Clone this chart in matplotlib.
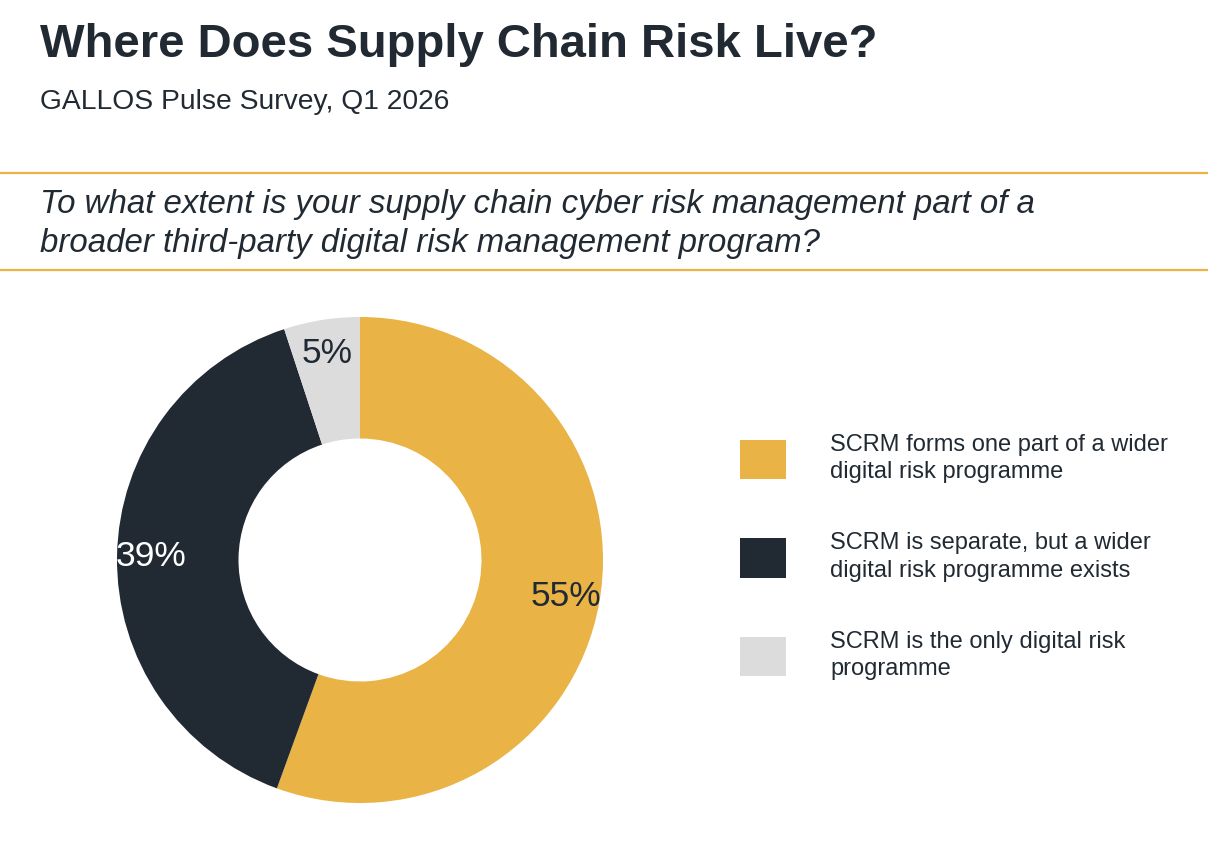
import numpy as np
import matplotlib
matplotlib.use('Agg')
import matplotlib.pyplot as plt
from matplotlib.patches import Patch
from matplotlib.lines import Line2D

plt.rcParams['font.family'] = ['Liberation Sans', 'DejaVu Sans']

# data
labels = ['SCRM forms one part of a wider\ndigital risk programme',
          'SCRM is separate, but a wider\ndigital risk programme exists',
          'SCRM is the only digital risk\nprogramme']
values = [55, 39, 5]
colors = ['#E9B345', '#212A33', '#DCDCDC']
label_colors = ['#212A33', 'white', '#212A33']

title = 'Where Does Supply Chain Risk Live?'
subtitle = 'GALLOS Pulse Survey, Q1 2026'
question = ('To what extent is your supply chain cyber risk management part of a\n'
            'broader third-party digital risk management program?')

W, H = 1208, 852
fig = plt.figure(figsize=(W / 100, H / 100), dpi=100)
fig.patch.set_facecolor('white')

dark = '#212A33'
gold = '#E9B345'

# header texts
fig.text(40 / W, 1 - 45 / H, title, fontsize=34, fontweight='bold', color=dark,
         ha='left', va='center')
fig.text(40 / W, 1 - 102 / H, subtitle, fontsize=20.3, color=dark, ha='left', va='center')
fig.text(40 / W, 1 - 224 / H, question, fontsize=23.8, style='italic', color=dark,
         ha='left', va='center', linespacing=1.31)

# gold rules
for yy in [173, 270]:
    fig.add_artist(Line2D([0, 1], [1 - yy / H, 1 - yy / H], color=gold, lw=1.6,
                          transform=fig.transFigure))

# donut
cx, cy, r = 360, 560, 243
ax = fig.add_axes([(cx - r) / W, (H - cy - r) / H, 2 * r / W, 2 * r / H])
wedges, texts, autotexts = ax.pie(values, colors=colors, startangle=90, counterclock=False,
                                  radius=1, wedgeprops=dict(width=0.5, linewidth=0),
                                  autopct=lambda p: '', pctdistance=0.86)
for at, v, c in zip(autotexts, values, label_colors):
    at.set_text(f'{v}%')
    at.set_color(c)
    at.set_fontsize(25.5)
ax.set_xlim(-1, 1)
ax.set_ylim(-1, 1)
ax.set_aspect('equal')
ax.axis('off')

# legend
handles = [Patch(facecolor=c, edgecolor='none') for c in colors]
leg = fig.legend(handles, labels, loc='upper left',
                 bbox_to_anchor=(740 / W, 1 - 434 / H), frameon=False,
                 fontsize=17, handlelength=1.95, handleheight=2.2,
                 handletextpad=1.86, labelspacing=2.09, borderpad=0, borderaxespad=0)
for t in leg.get_texts():
    t.set_color(dark)
    t.set_linespacing(1.3)

fig.savefig('out.png', dpi=100, facecolor='white')
